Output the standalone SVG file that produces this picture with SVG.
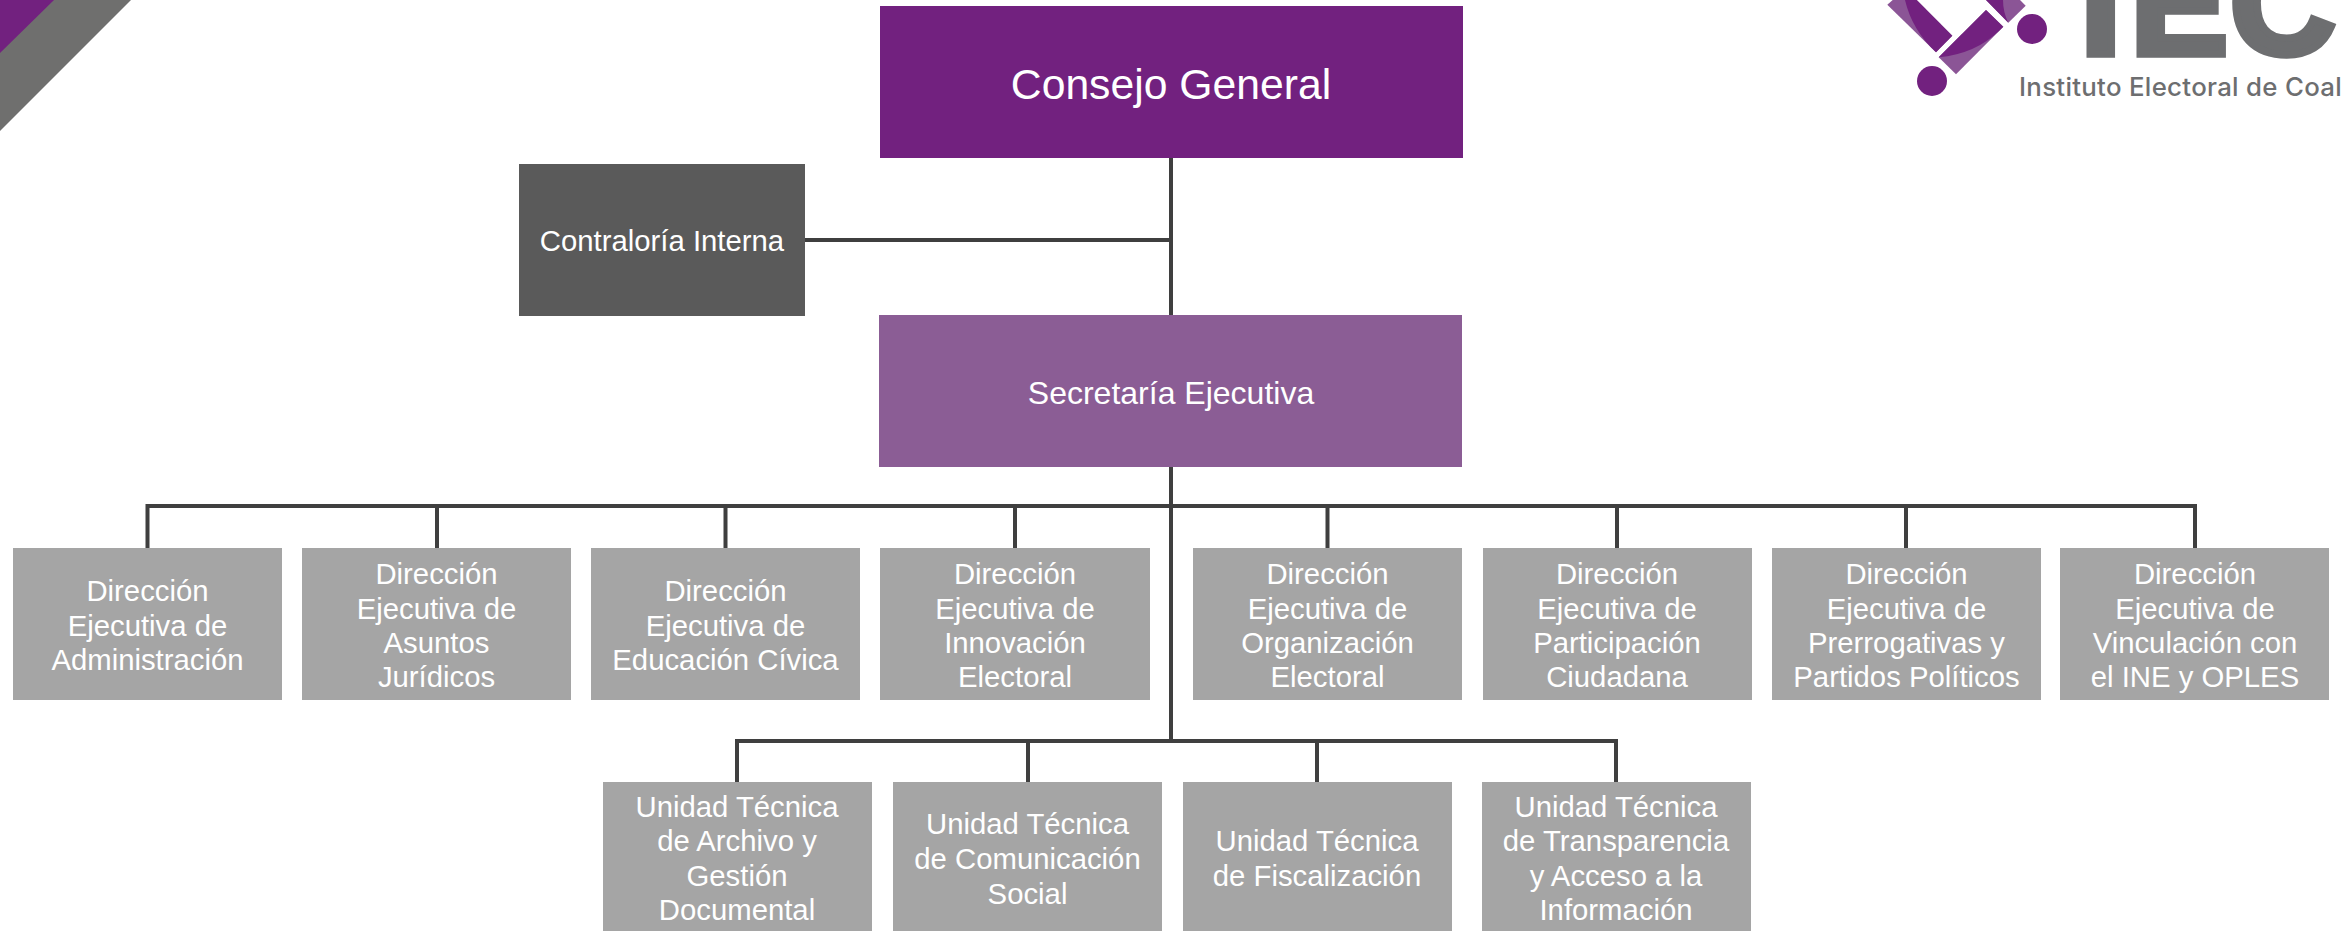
<svg xmlns="http://www.w3.org/2000/svg" width="2341" height="931" viewBox="0 0 2341 931">
<style>
text{font-family:"Liberation Sans",Arial,sans-serif;fill:#fff;text-anchor:middle}
.t{font-size:29.3px}
.g{fill:#a5a5a5}
.c{stroke:#3f3f3f;stroke-width:4;fill:none}
.d{fill:#72217f}
.l{fill:#8b5596}
</style>
<rect width="2341" height="931" fill="#fff"/>
<g id="corner"><polygon points="0,0 131,0 0,131" fill="#6f6f6e"/><polygon points="0,0 54,0 0,53" class="d"/></g>
<g id="logo">
<polygon class="l" points="1887.3,4.7 1936,52.3 1952.3,35.7 1916.7,0 1892.7,0"/>
<path class="d" d="M1905,0Q1912,30 1936,52.3L1952.3,35.7L1916.7,0Z"/>
<polygon class="l" points="1986,10 2003.3,26.7 1956,74.3 1938.7,57.3"/>
<path class="d" d="M1986,10L2003.3,26.7L1999,31Q1975,54 1938.7,57.3Z"/>
<polygon class="l" points="1986,0 2008.3,22.7 2025.7,5.7 2020,0"/>
<path class="d" d="M1986,0L2008.3,22.7Q2003,12 2003,0Z"/>
<circle class="d" cx="2032" cy="29" r="15"/>
<circle class="d" cx="1932" cy="81" r="15"/>
<text x="2080.500 2130.500 2230" y="53.500" style="font-family:'Liberation Sans',sans-serif;font-size:146px;font-weight:700;fill:#6d6e70;text-anchor:start;stroke:#6d6e70;stroke-width:7.500">IEC</text>
<text x="2019" y="96" style="font-family:'Inter',sans-serif;font-size:25.800px;letter-spacing:.3px;font-weight:500;fill:#6d6e70;text-anchor:start">Instituto Electoral de Coal</text>
</g>
<g id="connectors">
<path class="c" d="M1171 158V741M805 240H1171M147.500 548V506H2195V548M437 506V548M725.500 506V550M1015 506V548M1327.500 506V548M1617 506V548M1906 506V548"/>
<path class="c" d="M737 782V741H1616V782M1028 741V782M1317 741V782"/>
</g>
<g id="consejo"><rect x="880" y="6" width="583" height="152" class="d"/><text x="1171" y="99" style="font-size:42.700px">Consejo General</text></g>
<g id="contraloria"><rect x="519" y="164" width="286" height="152" fill="#5a5a5a"/><text x="662" y="251" class="t">Contraloría Interna</text></g>
<g id="secretaria"><rect x="879" y="315" width="583" height="152" fill="#8b5d95"/><text x="1171" y="404" style="font-size:32px">Secretaría Ejecutiva</text></g>
<g id="d1"><rect x="13" y="548" width="269" height="152" class="g"/><text class="t"><tspan x="147.500" y="601">Dirección</tspan><tspan x="147.500" y="635.500">Ejecutiva de</tspan><tspan x="147.500" y="670">Administración</tspan></text></g>
<g id="d2"><rect x="302" y="548" width="269" height="152" class="g"/><text class="t"><tspan x="436.500" y="584">Dirección</tspan><tspan x="436.500" y="618.500">Ejecutiva de</tspan><tspan x="436.500" y="653">Asuntos</tspan><tspan x="436.500" y="687">Jurídicos</tspan></text></g>
<g id="d3"><rect x="591" y="548" width="269" height="152" class="g"/><text class="t"><tspan x="725.500" y="601">Dirección</tspan><tspan x="725.500" y="635.500">Ejecutiva de</tspan><tspan x="725.500" y="670">Educación Cívica</tspan></text></g>
<g id="d4"><rect x="880" y="548" width="270" height="152" class="g"/><text class="t"><tspan x="1015" y="584">Dirección</tspan><tspan x="1015" y="618.500">Ejecutiva de</tspan><tspan x="1015" y="653">Innovación</tspan><tspan x="1015" y="687">Electoral</tspan></text></g>
<g id="d5"><rect x="1193" y="548" width="269" height="152" class="g"/><text class="t"><tspan x="1327.500" y="584">Dirección</tspan><tspan x="1327.500" y="618.500">Ejecutiva de</tspan><tspan x="1327.500" y="653">Organización</tspan><tspan x="1327.500" y="687">Electoral</tspan></text></g>
<g id="d6"><rect x="1483" y="548" width="269" height="152" class="g"/><text class="t"><tspan x="1617" y="584">Dirección</tspan><tspan x="1617" y="618.500">Ejecutiva de</tspan><tspan x="1617" y="653">Participación</tspan><tspan x="1617" y="687">Ciudadana</tspan></text></g>
<g id="d7"><rect x="1772" y="548" width="269" height="152" class="g"/><text class="t"><tspan x="1906.500" y="584">Dirección</tspan><tspan x="1906.500" y="618.500">Ejecutiva de</tspan><tspan x="1906.500" y="653">Prerrogativas y</tspan><tspan x="1906.500" y="687">Partidos Políticos</tspan></text></g>
<g id="d8"><rect x="2060" y="548" width="269" height="152" class="g"/><text class="t"><tspan x="2195" y="584">Dirección</tspan><tspan x="2195" y="618.500">Ejecutiva de</tspan><tspan x="2195" y="653">Vinculación con</tspan><tspan x="2195" y="687">el INE y OPLES</tspan></text></g>
<g id="u1"><rect x="603" y="782" width="269" height="152" class="g"/><text class="t"><tspan x="737" y="817">Unidad Técnica</tspan><tspan x="737" y="851">de Archivo y</tspan><tspan x="737" y="886">Gestión</tspan><tspan x="737" y="920">Documental</tspan></text></g>
<g id="u2"><rect x="893" y="782" width="269" height="152" class="g"/><text class="t"><tspan x="1027.500" y="834">Unidad Técnica</tspan><tspan x="1027.500" y="869">de Comunicación</tspan><tspan x="1027.500" y="904">Social</tspan></text></g>
<g id="u3"><rect x="1183" y="782" width="269" height="152" class="g"/><text class="t"><tspan x="1317" y="851">Unidad Técnica</tspan><tspan x="1317" y="886">de Fiscalización</tspan></text></g>
<g id="u4"><rect x="1482" y="782" width="269" height="152" class="g"/><text class="t"><tspan x="1616" y="817">Unidad Técnica</tspan><tspan x="1616" y="851">de Transparencia</tspan><tspan x="1616" y="886">y Acceso a la</tspan><tspan x="1616" y="920">Información</tspan></text></g>
</svg>
